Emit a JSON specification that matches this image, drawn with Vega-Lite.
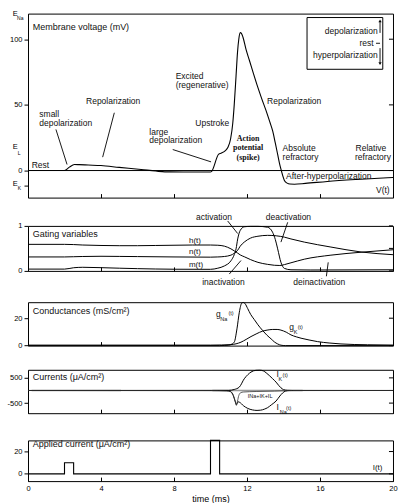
{
"$schema": "https://vega.github.io/schema/vega-lite/v6.json",
"padding": {"left": 6, "top": 9.6, "right": 4, "bottom": 4},
"config": {
 "font": "Liberation Sans",
 "view": {"stroke": "#000", "strokeWidth": 1},
 "axis": {"grid": false, "domain": false, "labelOverlap": false, "labelSeparation": -100, "labelFlush": false, "labelFont": "Liberation Sans", "labelFontSize": 7.5, "labelColor": "#000", "tickColor": "#000", "tickWidth": 1, "titleFont": "Liberation Sans", "titleFontWeight": "normal", "titleColor": "#000", "titleFontSize": 9},
 "text": {"font": "Liberation Sans", "fontSize": 8.5, "color": "#111", "align": "left", "baseline": "middle"},
 "line": {"color": "#000", "strokeWidth": 1},
 "rule": {"color": "#000", "strokeWidth": 1}
},
"spacing": 28.3,
"bounds": "flush",
"vconcat": [
{
 "width": 365, "height": 184,
 "layer": [
  {"data": {"values": [{"v": 0}]}, "mark": {"type": "rule"},
   "encoding": {"y": {"field": "v", "type": "quantitative", "scale": {"domain": [-20.6, 119.5], "nice": false, "zero": false}, "axis": {"orient": "left", "values": [-11.45, 0, 50, 100], "labelExpr": "datum.value < -1 ? '' : '' + datum.value", "labelOverlap": false, "labelSeparation": -100, "tickSize": 4, "labelPadding": 2, "title": null}}}},
  {"data": {"values": [{"v": 0}, {"v": 50}, {"v": 100}]}, "mark": {"type": "rule"},
   "encoding": {"x": {"datum": 19.78, "type": "quantitative"}, "x2": {"datum": 20}, "y": {"field": "v", "type": "quantitative"}}},
  {"data": {"values": [
    {"t": 0, "v": 0}, {"t": 2.0, "v": 0}, {"t": 2.27, "v": 2.6}, {"t": 2.54, "v": 4.6}, {"t": 2.8, "v": 4.5}, {"t": 3.3, "v": 4.2}, {"t": 4.0, "v": 3.8}, {"t": 5.0, "v": 2.4}, {"t": 6.2, "v": 0.8}, {"t": 7.0, "v": -0.4}, {"t": 7.5, "v": -1.0}, {"t": 8.5, "v": -1.1}, {"t": 10.0, "v": -1.1}, {"t": 10.05, "v": -0.8}, {"t": 10.45, "v": 12.5}, {"t": 10.6, "v": 13.3}, {"t": 10.8, "v": 15}, {"t": 10.95, "v": 17.5}, {"t": 11.1, "v": 24}, {"t": 11.22, "v": 36}, {"t": 11.3, "v": 50}, {"t": 11.4, "v": 72}, {"t": 11.48, "v": 90}, {"t": 11.55, "v": 100}, {"t": 11.63, "v": 105}, {"t": 11.7, "v": 104.3}, {"t": 11.78, "v": 101.5}, {"t": 11.95, "v": 92}, {"t": 12.13, "v": 84}, {"t": 12.35, "v": 74}, {"t": 12.59, "v": 63.5}, {"t": 12.8, "v": 55}, {"t": 13.04, "v": 45.8}, {"t": 13.25, "v": 37}, {"t": 13.41, "v": 30}, {"t": 13.55, "v": 21}, {"t": 13.68, "v": 12.3}, {"t": 13.78, "v": 5.5}, {"t": 13.86, "v": 1}, {"t": 13.95, "v": -3.5}, {"t": 14.05, "v": -7.5}, {"t": 14.2, "v": -9.6}, {"t": 14.35, "v": -10.3}, {"t": 14.6, "v": -10.4}, {"t": 15.2, "v": -9.8}, {"t": 16.4, "v": -8.3}, {"t": 18.0, "v": -6.8}, {"t": 19.7, "v": -5.5}, {"t": 20, "v": -5.3}
   ]}, "mark": {"type": "line", "interpolate": "monotone", "strokeWidth": 1.1},
   "encoding": {"x": {"field": "t", "type": "quantitative", "scale": {"domain": [0, 20], "nice": false}, "axis": {"values": [0, 2, 4, 6, 8, 10, 12, 14, 16, 18, 20], "labels": false, "tickSize": 4, "offset": -4, "title": null}}, "y": {"field": "v", "type": "quantitative", "scale": {"domain": [-20.6, 119.5], "nice": false, "zero": false}}}},
  {"data": {"values": [{"t": 15.29, "t2": 19.44, "v": 116.5, "v2": 77.1}]}, "mark": {"type": "rect", "fill": "#fff", "stroke": "#000", "strokeWidth": 1},
   "encoding": {"x": {"field": "t", "type": "quantitative"}, "x2": {"field": "t2"}, "y": {"field": "v", "type": "quantitative"}, "y2": {"field": "v2"}}},
  {"data": {"values": [
    {"t": 1.53, "v": 31.3, "t2": 2.14, "v2": 4.6}, {"t": 4.73, "v": 44, "t2": 4.09, "v2": 10.2}, {"t": 7.93, "v": 16, "t2": 10.03, "v2": 6.6},
    {"t": 19.29, "v": 104.8, "t2": 19.29, "v2": 113.2}, {"t": 19.29, "v": 93.2, "t2": 19.29, "v2": 82.2}, {"t": 19.07, "v": 96.9, "t2": 19.29, "v2": 96.9}
   ]}, "mark": {"type": "rule", "strokeWidth": 0.9},
   "encoding": {"x": {"field": "t", "type": "quantitative"}, "x2": {"field": "t2"}, "y": {"field": "v", "type": "quantitative"}, "y2": {"field": "v2"}}},
  {"data": {"values": [{"t": 19.29, "v": 114, "dir": "up"}, {"t": 19.29, "v": 81.5, "dir": "down"}]}, "mark": {"type": "point", "filled": true, "color": "#000", "size": 10, "opacity": 1},
   "encoding": {"x": {"field": "t", "type": "quantitative"}, "y": {"field": "v", "type": "quantitative"}, "shape": {"field": "dir", "type": "nominal", "scale": {"domain": ["up", "down"], "range": ["triangle-up", "triangle-down"]}, "legend": null}}},
  {"data": {"values": [
    {"t": 0.62, "v": 42.7, "text": "small"}, {"t": 0.62, "v": 35.9, "text": "depolarization"}, {"t": 3.18, "v": 52.9, "text": "Repolarization"}, {"t": 6.65, "v": 29.5, "text": "large"}, {"t": 6.65, "v": 22.9, "text": "depolarization"}, {"t": 0.2, "v": 4.0, "text": "Rest"}, {"t": 8.09, "v": 72, "text": "Excited"}, {"t": 8.09, "v": 65.1, "text": "(regenerative)"}, {"t": 9.17, "v": 36.3, "text": "Upstroke"}, {"t": 13.1, "v": 52.9, "text": "Repolarization"}, {"t": 13.95, "v": 17.3, "text": "Absolute"}, {"t": 13.95, "v": 10.2, "text": "refractory"}, {"t": 17.95, "v": 17.3, "text": "Relative"}, {"t": 17.92, "v": 10.2, "text": "refractory"}, {"t": 14.14, "v": -3.8, "text": "After-hyperpolarization"}, {"t": 19.07, "v": -14.5, "text": "V(t)"}
   ]}, "mark": {"type": "text"},
   "encoding": {"x": {"field": "t", "type": "quantitative"}, "y": {"field": "v", "type": "quantitative"}, "text": {"field": "text"}}},
  {"data": {"values": [{"t": 0.26, "v": 109.4, "text": "Membrane voltage (mV)"}]}, "mark": {"type": "text", "fontSize": 9},
   "encoding": {"x": {"field": "t", "type": "quantitative"}, "y": {"field": "v", "type": "quantitative"}, "text": {"field": "text"}}},
  {"data": {"values": [{"t": 12.06, "v": 24.0, "text": "Action"}, {"t": 12.06, "v": 16.8, "text": "potential"}, {"t": 12.06, "v": 9.8, "text": "(spike)"}]}, "mark": {"type": "text", "font": "Liberation Serif", "fontWeight": "bold", "fontSize": 8, "align": "center"},
   "encoding": {"x": {"field": "t", "type": "quantitative"}, "y": {"field": "v", "type": "quantitative"}, "text": {"field": "text"}}},
  {"data": {"values": [{"t": 19.16, "v": 106.3, "text": "depolarization"}, {"t": 18.94, "v": 96.9, "text": "rest"}, {"t": 19.16, "v": 87.8, "text": "hyperpolarization"}]}, "mark": {"type": "text", "align": "right"},
   "encoding": {"x": {"field": "t", "type": "quantitative"}, "y": {"field": "v", "type": "quantitative"}, "text": {"field": "text"}}},
  {"data": {"values": [{"t": -0.84, "v": 119, "text": "E"}, {"t": -0.84, "v": 17.8, "text": "E"}, {"t": -0.84, "v": -10.2, "text": "E"}]}, "mark": {"type": "text", "fontSize": 7.5, "color": "#000"},
   "encoding": {"x": {"field": "t", "type": "quantitative"}, "y": {"field": "v", "type": "quantitative"}, "text": {"field": "text"}}},
  {"data": {"values": [{"t": -0.6, "v": 116.3, "text": "Na"}, {"t": -0.56, "v": 13.4, "text": "L"}, {"t": -0.56, "v": -13.3, "text": "K"}]}, "mark": {"type": "text", "fontSize": 5, "color": "#000"},
   "encoding": {"x": {"field": "t", "type": "quantitative"}, "y": {"field": "v", "type": "quantitative"}, "text": {"field": "text"}}}
 ]
},
{
 "spacing": 31.3,
 "bounds": "flush",
 "vconcat": [
 {
  "width": 365, "height": 45,
  "layer": [
   {"data": {"values": [
     {"s": "m", "t": 0, "val": 0.04}, {"s": "m", "t": 2, "val": 0.04}, {"s": "m", "t": 2.5, "val": 0.07}, {"s": "m", "t": 3, "val": 0.08}, {"s": "m", "t": 4, "val": 0.072}, {"s": "m", "t": 5, "val": 0.06}, {"s": "m", "t": 6, "val": 0.05}, {"s": "m", "t": 7, "val": 0.042}, {"s": "m", "t": 8, "val": 0.037}, {"s": "m", "t": 10, "val": 0.035}, {"s": "m", "t": 10.4, "val": 0.06}, {"s": "m", "t": 10.76, "val": 0.11}, {"s": "m", "t": 11.12, "val": 0.225}, {"s": "m", "t": 11.3, "val": 0.36}, {"s": "m", "t": 11.4, "val": 0.49}, {"s": "m", "t": 11.49, "val": 0.71}, {"s": "m", "t": 11.63, "val": 0.9}, {"s": "m", "t": 11.85, "val": 0.98}, {"s": "m", "t": 12.2, "val": 0.99}, {"s": "m", "t": 12.6, "val": 0.99}, {"s": "m", "t": 13.13, "val": 0.97}, {"s": "m", "t": 13.4, "val": 0.86}, {"s": "m", "t": 13.55, "val": 0.7}, {"s": "m", "t": 13.68, "val": 0.49}, {"s": "m", "t": 13.86, "val": 0.19}, {"s": "m", "t": 14.05, "val": 0.055}, {"s": "m", "t": 14.41, "val": 0.025}, {"s": "m", "t": 15.5, "val": 0.02}, {"s": "m", "t": 20, "val": 0.025},
     {"s": "h", "t": 0, "val": 0.59}, {"s": "h", "t": 2, "val": 0.59}, {"s": "h", "t": 2.5, "val": 0.585}, {"s": "h", "t": 3, "val": 0.575}, {"s": "h", "t": 4, "val": 0.565}, {"s": "h", "t": 5, "val": 0.56}, {"s": "h", "t": 6, "val": 0.56}, {"s": "h", "t": 7, "val": 0.565}, {"s": "h", "t": 8, "val": 0.57}, {"s": "h", "t": 9, "val": 0.575}, {"s": "h", "t": 10, "val": 0.575}, {"s": "h", "t": 10.4, "val": 0.57}, {"s": "h", "t": 10.76, "val": 0.55}, {"s": "h", "t": 11.12, "val": 0.49}, {"s": "h", "t": 11.3, "val": 0.445}, {"s": "h", "t": 11.4, "val": 0.42}, {"s": "h", "t": 11.49, "val": 0.395}, {"s": "h", "t": 11.63, "val": 0.355}, {"s": "h", "t": 11.85, "val": 0.315}, {"s": "h", "t": 12.2, "val": 0.25}, {"s": "h", "t": 12.6, "val": 0.19}, {"s": "h", "t": 13.13, "val": 0.145}, {"s": "h", "t": 13.5, "val": 0.125}, {"s": "h", "t": 13.8, "val": 0.12}, {"s": "h", "t": 14.05, "val": 0.14}, {"s": "h", "t": 14.41, "val": 0.18}, {"s": "h", "t": 15.14, "val": 0.26}, {"s": "h", "t": 16.6, "val": 0.35}, {"s": "h", "t": 18.25, "val": 0.415}, {"s": "h", "t": 20, "val": 0.47},
     {"s": "n", "t": 0, "val": 0.31}, {"s": "n", "t": 2, "val": 0.31}, {"s": "n", "t": 2.5, "val": 0.315}, {"s": "n", "t": 3, "val": 0.32}, {"s": "n", "t": 4, "val": 0.325}, {"s": "n", "t": 5, "val": 0.322}, {"s": "n", "t": 6, "val": 0.318}, {"s": "n", "t": 8, "val": 0.31}, {"s": "n", "t": 10, "val": 0.305}, {"s": "n", "t": 10.4, "val": 0.31}, {"s": "n", "t": 10.76, "val": 0.32}, {"s": "n", "t": 11.12, "val": 0.35}, {"s": "n", "t": 11.3, "val": 0.39}, {"s": "n", "t": 11.4, "val": 0.42}, {"s": "n", "t": 11.49, "val": 0.46}, {"s": "n", "t": 11.63, "val": 0.55}, {"s": "n", "t": 11.85, "val": 0.64}, {"s": "n", "t": 12.2, "val": 0.73}, {"s": "n", "t": 12.6, "val": 0.77}, {"s": "n", "t": 13.13, "val": 0.79}, {"s": "n", "t": 13.6, "val": 0.78}, {"s": "n", "t": 14.05, "val": 0.75}, {"s": "n", "t": 14.41, "val": 0.71}, {"s": "n", "t": 15.14, "val": 0.64}, {"s": "n", "t": 16.6, "val": 0.53}, {"s": "n", "t": 18.25, "val": 0.42}, {"s": "n", "t": 20, "val": 0.36}
    ]}, "mark": {"type": "line", "interpolate": "monotone"},
    "encoding": {"x": {"field": "t", "type": "quantitative", "scale": {"domain": [0, 20], "nice": false}, "axis": {"values": [0, 2, 4, 6, 8, 10, 12, 14, 16, 18, 20], "labels": false, "tickSize": 4, "offset": -4, "title": null}}, "y": {"field": "val", "type": "quantitative", "scale": {"domain": [0, 1], "nice": false, "zero": false}, "axis": {"orient": "left", "values": [0, 0.5, 1], "labelExpr": "'' + datum.value", "labelOverlap": false, "labelSeparation": -100, "tickSize": 4, "labelPadding": 2, "title": null}}, "detail": {"field": "s"}}},
   {"data": {"values": [{"val": 0}, {"val": 0.5}, {"val": 1}]}, "mark": {"type": "rule"},
    "encoding": {"x": {"datum": 19.78, "type": "quantitative"}, "x2": {"datum": 20}, "y": {"field": "val", "type": "quantitative"}}},
   {"data": {"values": [{"t": 10.94, "val": 1.11, "t2": 11.49, "val2": 0.83}, {"t": 14.23, "val": 1.08, "t2": 13.86, "val2": 0.64}, {"t": 11.03, "val": -0.07, "t2": 11.67, "val2": 0.23}, {"t": 16.35, "val": -0.12, "t2": 16.45, "val2": 0.19}]}, "mark": {"type": "rule", "strokeWidth": 0.9},
    "encoding": {"x": {"field": "t", "type": "quantitative"}, "x2": {"field": "t2"}, "y": {"field": "val", "type": "quantitative"}, "y2": {"field": "val2"}}},
   {"data": {"values": [{"t": 0.26, "val": 0.83, "text": "Gating variables"}]}, "mark": {"type": "text", "fontSize": 9},
    "encoding": {"x": {"field": "t", "type": "quantitative"}, "y": {"field": "val", "type": "quantitative"}, "text": {"field": "text"}}},
   {"data": {"values": [{"t": 8.82, "val": 0.67, "text": "h(t)"}, {"t": 8.82, "val": 0.41, "text": "n(t)"}, {"t": 8.82, "val": 0.12, "text": "m(t)"}]}, "mark": {"type": "text", "fontSize": 8},
    "encoding": {"x": {"field": "t", "type": "quantitative"}, "y": {"field": "val", "type": "quantitative"}, "text": {"field": "text"}}},
   {"data": {"values": [{"t": 10.19, "val": 1.2, "text": "activation"}, {"t": 14.27, "val": 1.2, "text": "deactivation"}, {"t": 10.71, "val": -0.24, "text": "inactivation"}, {"t": 15.96, "val": -0.24, "text": "deinactivation"}]}, "mark": {"type": "text", "align": "center"},
    "encoding": {"x": {"field": "t", "type": "quantitative"}, "y": {"field": "val", "type": "quantitative"}, "text": {"field": "text"}}}
  ]
 },
 {
  "spacing": 23.6,
  "bounds": "flush",
  "vconcat": [
  {
   "width": 365, "height": 43.4,
   "layer": [
    {"data": {"values": [
      {"s": "Na", "t": 0, "g": 0}, {"s": "Na", "t": 10.5, "g": 0}, {"s": "Na", "t": 11.0, "g": 0.3}, {"s": "Na", "t": 11.12, "g": 0.8}, {"s": "Na", "t": 11.3, "g": 2.5}, {"s": "Na", "t": 11.45, "g": 12.2}, {"s": "Na", "t": 11.58, "g": 24.4}, {"s": "Na", "t": 11.71, "g": 31}, {"s": "Na", "t": 11.8, "g": 31.5}, {"s": "Na", "t": 11.9, "g": 30.5}, {"s": "Na", "t": 12.04, "g": 27}, {"s": "Na", "t": 12.2, "g": 22.8}, {"s": "Na", "t": 12.4, "g": 19}, {"s": "Na", "t": 12.6, "g": 15.2}, {"s": "Na", "t": 12.86, "g": 11}, {"s": "Na", "t": 13.1, "g": 7.5}, {"s": "Na", "t": 13.32, "g": 4.9}, {"s": "Na", "t": 13.5, "g": 2.7}, {"s": "Na", "t": 13.68, "g": 1.2}, {"s": "Na", "t": 13.86, "g": 0.3}, {"s": "Na", "t": 14.1, "g": 0}, {"s": "Na", "t": 20, "g": 0},
      {"s": "K", "t": 0, "g": 0.35}, {"s": "K", "t": 10, "g": 0.35}, {"s": "K", "t": 10.6, "g": 0.45}, {"s": "K", "t": 11.1, "g": 0.7}, {"s": "K", "t": 11.4, "g": 1.3}, {"s": "K", "t": 11.67, "g": 2.5}, {"s": "K", "t": 11.95, "g": 4.5}, {"s": "K", "t": 12.22, "g": 6.6}, {"s": "K", "t": 12.5, "g": 8.5}, {"s": "K", "t": 12.86, "g": 10.6}, {"s": "K", "t": 13.1, "g": 11.3}, {"s": "K", "t": 13.41, "g": 11.8}, {"s": "K", "t": 13.65, "g": 11.8}, {"s": "K", "t": 13.86, "g": 11.3}, {"s": "K", "t": 14.15, "g": 9.8}, {"s": "K", "t": 14.41, "g": 7.8}, {"s": "K", "t": 14.7, "g": 6.4}, {"s": "K", "t": 14.96, "g": 5.4}, {"s": "K", "t": 15.4, "g": 4.1}, {"s": "K", "t": 15.87, "g": 2.9}, {"s": "K", "t": 16.5, "g": 1.9}, {"s": "K", "t": 17.15, "g": 1.2}, {"s": "K", "t": 18.6, "g": 0.6}, {"s": "K", "t": 20, "g": 0.4}
     ]}, "mark": {"type": "line", "interpolate": "monotone"},
     "encoding": {"x": {"field": "t", "type": "quantitative", "scale": {"domain": [0, 20], "nice": false}, "axis": {"values": [0, 2, 4, 6, 8, 10, 12, 14, 16, 18, 20], "labels": false, "tickSize": 4, "offset": -4, "title": null}}, "y": {"field": "g", "type": "quantitative", "scale": {"domain": [0, 31.7], "nice": false, "zero": false}, "axis": {"orient": "left", "values": [0, 20], "labelExpr": "'' + datum.value", "labelOverlap": false, "tickSize": 4, "labelPadding": 2, "title": null}}, "detail": {"field": "s"}}},
    {"data": {"values": [{"g": 0}, {"g": 20}]}, "mark": {"type": "rule"},
     "encoding": {"x": {"datum": 19.78, "type": "quantitative"}, "x2": {"datum": 20}, "y": {"field": "g", "type": "quantitative"}}},
    {"data": {"values": [{"t": 0.26, "g": 25.3, "text": "Conductances (mS/cm²)"}]}, "mark": {"type": "text", "fontSize": 9},
     "encoding": {"x": {"field": "t", "type": "quantitative"}, "y": {"field": "g", "type": "quantitative"}, "text": {"field": "text"}}},
    {"data": {"values": [{"t": 10.3, "g": 23.1, "text": "g"}, {"t": 14.32, "g": 13.4, "text": "g"}]}, "mark": {"type": "text", "fontSize": 8.5},
     "encoding": {"x": {"field": "t", "type": "quantitative"}, "y": {"field": "g", "type": "quantitative"}, "text": {"field": "text"}}},
    {"data": {"values": [{"t": 10.54, "g": 19.5, "text": "Na"}, {"t": 14.56, "g": 10.2, "text": "K"}, {"t": 10.98, "g": 23.6, "text": "(t)"}, {"t": 14.78, "g": 13.9, "text": "(t)"}]}, "mark": {"type": "text", "fontSize": 5.5},
     "encoding": {"x": {"field": "t", "type": "quantitative"}, "y": {"field": "g", "type": "quantitative"}, "text": {"field": "text"}}}
   ]
  },
  {
   "spacing": 26.6,
   "bounds": "flush",
   "vconcat": [
   {
    "width": 365, "height": 43.4,
    "layer": [
     {"data": {"values": [{"c": 0}]}, "mark": {"type": "rule"},
      "encoding": {"y": {"field": "c", "type": "quantitative", "scale": {"domain": [-900, 820], "nice": false, "zero": false}, "axis": {"orient": "left", "values": [-500, 0, 500], "labelExpr": "'' + datum.value", "labelOverlap": false, "labelSeparation": -100, "tickSize": 4, "labelPadding": 2, "title": null}}}},
     {"data": {"values": [{"c": -500}, {"c": 0}, {"c": 500}]}, "mark": {"type": "rule"},
      "encoding": {"x": {"datum": 19.78, "type": "quantitative"}, "x2": {"datum": 20}, "y": {"field": "c", "type": "quantitative"}}},
     {"data": {"values": [{"seg": 1, "t": 0.2, "c": 0}, {"seg": 1, "t": 5.1, "c": 0}, {"seg": 2, "t": 10.1, "c": 0}, {"seg": 2, "t": 15.05, "c": 0}]}, "mark": {"type": "line", "color": "#999", "strokeWidth": 1.6},
      "encoding": {"x": {"field": "t", "type": "quantitative", "scale": {"domain": [0, 20], "nice": false}, "axis": {"values": [0, 2, 4, 6, 8, 10, 12, 14, 16, 18, 20], "labels": false, "tickSize": 4, "offset": -4, "title": null}}, "y": {"field": "c", "type": "quantitative"}, "detail": {"field": "seg"}}},
     {"data": {"values": [
       {"s": "IK", "t": 0, "c": 0}, {"s": "IK", "t": 11.0, "c": 5}, {"s": "IK", "t": 11.3, "c": 40}, {"s": "IK", "t": 11.58, "c": 135}, {"s": "IK", "t": 11.85, "c": 464}, {"s": "IK", "t": 12.05, "c": 630}, {"s": "IK", "t": 12.22, "c": 730}, {"s": "IK", "t": 12.49, "c": 800}, {"s": "IK", "t": 12.7, "c": 805}, {"s": "IK", "t": 12.9, "c": 775}, {"s": "IK", "t": 13.05, "c": 700}, {"s": "IK", "t": 13.22, "c": 595}, {"s": "IK", "t": 13.4, "c": 470}, {"s": "IK", "t": 13.59, "c": 333}, {"s": "IK", "t": 13.75, "c": 190}, {"s": "IK", "t": 13.86, "c": 107}, {"s": "IK", "t": 14.0, "c": 35}, {"s": "IK", "t": 14.2, "c": 8}, {"s": "IK", "t": 14.5, "c": 2}, {"s": "IK", "t": 20, "c": 0},
       {"s": "INa", "t": 0, "c": 0}, {"s": "INa", "t": 10.9, "c": -5}, {"s": "INa", "t": 11.1, "c": -40}, {"s": "INa", "t": 11.25, "c": -200}, {"s": "INa", "t": 11.35, "c": -420}, {"s": "INa", "t": 11.42, "c": -560}, {"s": "INa", "t": 11.5, "c": -450}, {"s": "INa", "t": 11.6, "c": -470}, {"s": "INa", "t": 11.8, "c": -600}, {"s": "INa", "t": 12.04, "c": -710}, {"s": "INa", "t": 12.3, "c": -770}, {"s": "INa", "t": 12.55, "c": -790}, {"s": "INa", "t": 12.75, "c": -780}, {"s": "INa", "t": 12.95, "c": -740}, {"s": "INa", "t": 13.13, "c": -680}, {"s": "INa", "t": 13.35, "c": -560}, {"s": "INa", "t": 13.59, "c": -420}, {"s": "INa", "t": 13.8, "c": -220}, {"s": "INa", "t": 13.95, "c": -100}, {"s": "INa", "t": 14.1, "c": -25}, {"s": "INa", "t": 14.3, "c": -3}, {"s": "INa", "t": 20, "c": 0}
      ]}, "mark": {"type": "line", "interpolate": "monotone"},
      "encoding": {"x": {"field": "t", "type": "quantitative"}, "y": {"field": "c", "type": "quantitative"}, "detail": {"field": "s"}}},
     {"data": {"values": [
       {"t": 0, "c": 0}, {"t": 10.0, "c": -2}, {"t": 10.9, "c": -20}, {"t": 11.1, "c": -50}, {"t": 11.25, "c": -200}, {"t": 11.35, "c": -430}, {"t": 11.42, "c": -590}, {"t": 11.48, "c": -420}, {"t": 11.55, "c": -200}, {"t": 11.65, "c": -90}, {"t": 11.8, "c": -60}, {"t": 12.5, "c": -40}, {"t": 13.5, "c": -25}, {"t": 14.0, "c": -10}, {"t": 14.5, "c": 0}, {"t": 20, "c": 0}
      ]}, "mark": {"type": "line", "interpolate": "monotone", "color": "#333", "strokeWidth": 0.8},
      "encoding": {"x": {"field": "t", "type": "quantitative"}, "y": {"field": "c", "type": "quantitative"}}},
     {"data": {"values": [{"t": 0.26, "c": 544, "text": "Currents (μA/cm²)"}]}, "mark": {"type": "text", "fontSize": 9},
      "encoding": {"x": {"field": "t", "type": "quantitative"}, "y": {"field": "c", "type": "quantitative"}, "text": {"field": "text"}}},
     {"data": {"values": [{"t": 13.61, "c": 650, "text": "I"}, {"t": 13.61, "c": -647, "text": "I"}]}, "mark": {"type": "text", "fontSize": 8.5},
      "encoding": {"x": {"field": "t", "type": "quantitative"}, "y": {"field": "c", "type": "quantitative"}, "text": {"field": "text"}}},
     {"data": {"values": [{"t": 13.72, "c": 437, "text": "K"}, {"t": 13.79, "c": -846, "text": "Na"}, {"t": 13.95, "c": 620, "text": "(t)"}, {"t": 14.14, "c": -700, "text": "(t)"}, {"t": 12.04, "c": -210, "text": "INa+IK+IL"}]}, "mark": {"type": "text", "fontSize": 5.5},
      "encoding": {"x": {"field": "t", "type": "quantitative"}, "y": {"field": "c", "type": "quantitative"}, "text": {"field": "text"}}}
    ]
   },
   {
    "width": 365, "height": 40.7,
    "layer": [
     {"data": {"values": [{"t": 0, "a": 0}, {"t": 2, "a": 10}, {"t": 2.5, "a": 0}, {"t": 10, "a": 30}, {"t": 10.5, "a": 0}, {"t": 20, "a": 0}]}, "mark": {"type": "line", "interpolate": "step-after", "strokeWidth": 1.1},
      "encoding": {"x": {"field": "t", "type": "quantitative", "scale": {"domain": [0, 20], "nice": false}, "axis": {"values": [0, 2, 4, 6, 8, 10, 12, 14, 16, 18, 20], "labelExpr": "'' + datum.value", "labelOverlap": false, "labelSeparation": -100, "labelFlush": false, "tickSize": 4, "offset": -4, "labelPadding": 3.5, "title": "time (ms)", "titlePadding": 2}}, "y": {"field": "a", "type": "quantitative", "scale": {"domain": [-6.5, 30], "nice": false, "zero": false}, "axis": {"orient": "left", "values": [0, 20], "labelExpr": "'' + datum.value", "labelOverlap": false, "tickSize": 4, "labelPadding": 2, "title": null}}}},
     {"data": {"values": [{"a": 0}, {"a": 20}]}, "mark": {"type": "rule"},
      "encoding": {"x": {"datum": 19.78, "type": "quantitative"}, "x2": {"datum": 20}, "y": {"field": "a", "type": "quantitative"}}},
     {"data": {"values": [{"t": 0.26, "a": 26.8, "text": "Applied current  (μA/cm²)"}]}, "mark": {"type": "text", "fontSize": 9},
      "encoding": {"x": {"field": "t", "type": "quantitative"}, "y": {"field": "a", "type": "quantitative"}, "text": {"field": "text"}}},
     {"data": {"values": [{"t": 18.89, "a": 5.1, "text": "I(t)"}]}, "mark": {"type": "text", "fontSize": 8},
      "encoding": {"x": {"field": "t", "type": "quantitative"}, "y": {"field": "a", "type": "quantitative"}, "text": {"field": "text"}}}
    ]
   }
   ]
  }
  ]
 }
 ]
}
]
}
